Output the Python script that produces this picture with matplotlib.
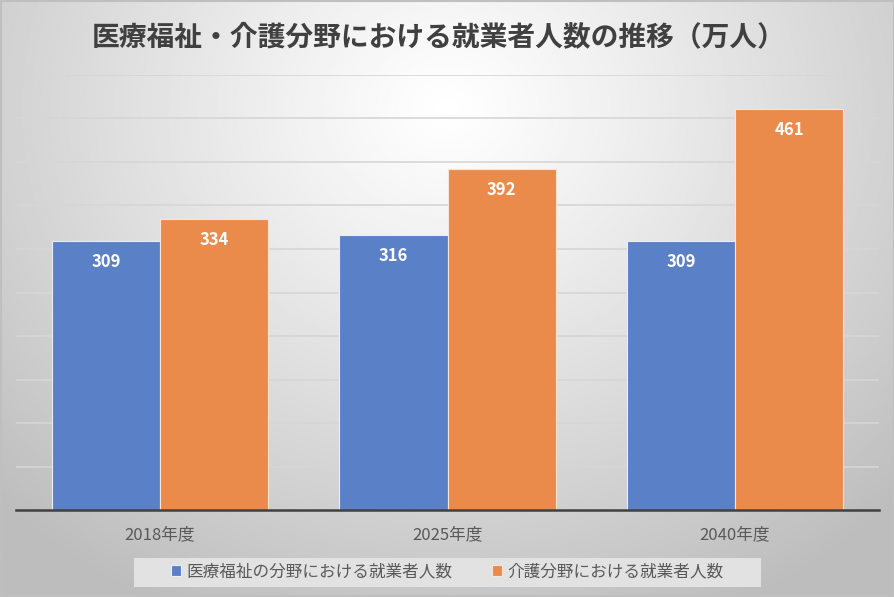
import numpy as np
import matplotlib
matplotlib.use("Agg")
import matplotlib.pyplot as plt
from matplotlib.patches import Rectangle

plt.rcParams['font.family'] = ['Noto Sans CJK JP', 'DejaVu Sans']

# ----------------------
# Data
# ----------------------
title = "医療福祉・介護分野における就業者人数の推移（万人）"
years = ["2018年度", "2025年度", "2040年度"]
series_names = ["医療福祉の分野における就業者人数", "介護分野における就業者人数"]
medical = [309, 316, 309]
care = [334, 392, 461]

blue = "#5A80C8"
orange = "#EB8B4B"

fig = plt.figure(figsize=(8.95, 5.97), dpi=100)

# ----------------------
# Radial gradient background
# ----------------------
bg = fig.add_axes([0, 0, 1, 1], zorder=-10)
yy, xx = np.mgrid[0:1:300j, 0:1:450j]
r = np.sqrt(((xx - 0.5) * 1.2) ** 2 + ((yy - 0.82) * 0.9) ** 2)
shade = 1.0 - 0.26 * np.clip(r / 0.85, 0, 1) ** 1.1
bg.imshow(shade, cmap="gray", vmin=0, vmax=1, extent=[0, 1, 0, 1],
          origin="lower", aspect="auto", interpolation="bilinear")
bg.set_xlim(0, 1)
bg.set_ylim(0, 1)
bg.axis("off")
for edge in [0.001, 0.999]:
    bg.axhline(edge, color="#BFBFBF", lw=1.5)
    bg.axvline(edge, color="#BFBFBF", lw=1.5)
# legend backing box
bg.add_patch(Rectangle((0.1497, 0.0168), 0.7006, 0.0486,
                       facecolor="#E2E2E2", edgecolor="none", zorder=2))

# ----------------------
# Bars
# ----------------------
ax = fig.add_axes([0.0182, 0.1457, 0.9637, 0.7287])
ax.set_facecolor("none")
x = np.arange(len(years))
w = 0.376
b1 = ax.bar(x - w / 2, medical, w, color=blue, edgecolor="#E8EEF8", lw=0.8,
            label=series_names[0], zorder=3)
b2 = ax.bar(x + w / 2, care, w, color=orange, edgecolor="#F8E4D4", lw=0.8,
            label=series_names[1], zorder=3)

for bars in (b1, b2):
    for bar in bars:
        h = bar.get_height()
        ax.annotate(f"{h:.0f}", (bar.get_x() + bar.get_width() / 2, h),
                    xytext=(0, -15), textcoords="offset points",
                    ha="center", va="center", color="white",
                    fontsize=12, fontweight="bold", zorder=4)

ax.set_xlim(-0.5, 2.5)
ax.set_ylim(0, 500)
ax.set_yticks(np.arange(50, 501, 50))
ax.yaxis.grid(True, color="#D6D6D6", lw=1.2, zorder=0)
ax.tick_params(axis="y", left=False, labelleft=False)
ax.set_xticks(x)
ax.set_xticklabels(years, fontsize=12, color="#595959")
ax.tick_params(axis="x", length=0, pad=12)
for s in ["top", "right", "left"]:
    ax.spines[s].set_visible(False)
ax.spines["bottom"].set_color("#404040")
ax.spines["bottom"].set_linewidth(1.8)
ax.spines["bottom"].set_zorder(5)

fig.text(0.49, 0.937, title, ha="center", va="center", fontsize=20,
         fontweight="bold", color="#404040")

leg = fig.legend(handles=[b1, b2], loc="center", bbox_to_anchor=(0.50, 0.042),
                 ncol=2, fontsize=12, frameon=False,
                 handlelength=0.6, handleheight=0.6, handletextpad=0.3,
                 columnspacing=2.4)
for t in leg.get_texts():
    t.set_color("#595959")

plt.savefig("out.png", dpi=100)
